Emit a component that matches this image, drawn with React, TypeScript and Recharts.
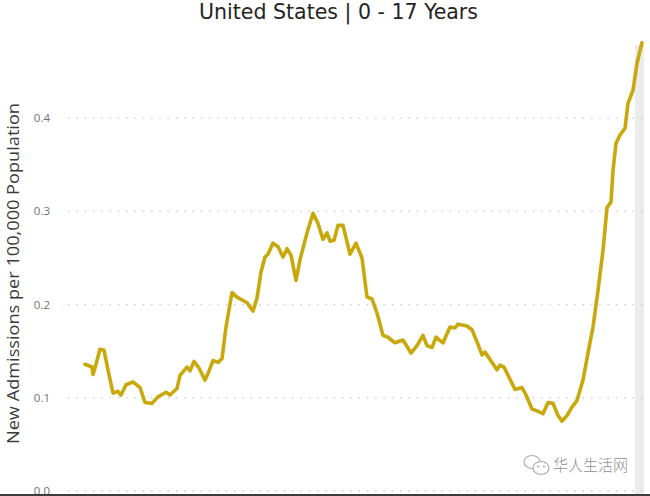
import React from 'react';
import { LineChart, Line, XAxis, YAxis, CartesianGrid } from 'recharts';

const TITLE = 'United States | 0 - 17 Years';
const Y_LABEL = 'New Admissions per 100,000 Population';
const Y_TICKS = [0, 0.1, 0.2, 0.3, 0.4];
const WATERMARK = '华人生活网';

// sample position (days from first point, estimated) and admissions rate
const days = [
  0, 7, 8, 10, 15, 19, 23, 28, 33, 36, 41, 48, 55, 60, 67, 73, 81, 85, 92, 95,
  102, 105, 109, 114, 120, 123, 128, 133, 137, 141, 147, 152, 162, 168, 172, 176, 180, 183, 188, 193,
  198, 202, 206, 211, 215, 222, 228, 233, 238, 242, 245, 249, 253, 258, 265, 271, 277, 282, 287, 292,
  298, 303, 310, 318, 326, 332, 338, 342, 347, 351, 358, 365, 370, 373, 382, 387, 392, 397, 400, 407,
  412, 415, 419, 424, 430, 437, 441, 447, 452, 458, 463, 468, 473, 477, 482, 487, 492, 498, 503, 508,
  513, 518, 522, 526, 528, 531, 535, 540, 543, 548, 552, 557,
];
const rate = [
  0.136, 0.133, 0.125, 0.132, 0.152, 0.151, 0.13, 0.105, 0.107, 0.103, 0.114, 0.117, 0.111, 0.095, 0.094, 0.101, 0.106, 0.103, 0.11, 0.124,
  0.133, 0.129, 0.139, 0.132, 0.119, 0.126, 0.14, 0.138, 0.142, 0.176, 0.213, 0.208, 0.202, 0.193, 0.207, 0.235, 0.251, 0.254, 0.266, 0.262,
  0.251, 0.26, 0.253, 0.226, 0.248, 0.277, 0.298, 0.287, 0.27, 0.277, 0.268, 0.269, 0.285, 0.285, 0.254, 0.266, 0.25, 0.208, 0.206, 0.191,
  0.167, 0.165, 0.159, 0.162, 0.148, 0.156, 0.167, 0.156, 0.154, 0.165, 0.159, 0.176, 0.175, 0.179, 0.177, 0.173, 0.16, 0.146, 0.149, 0.138,
  0.13, 0.135, 0.133, 0.122, 0.109, 0.111, 0.103, 0.088, 0.086, 0.083, 0.095, 0.094, 0.081, 0.075, 0.081, 0.09, 0.097, 0.119, 0.148, 0.176,
  0.215, 0.258, 0.304, 0.31, 0.344, 0.373, 0.382, 0.389, 0.416, 0.43, 0.459, 0.481,
];

const data = days.map((d, i) => ({ day: d, rate: rate[i] }));

const YLabel = () => (
  <text
    x={19}
    y={273.5}
    transform="rotate(-90 19 273.5)"
    textAnchor="middle"
    fill="#3a3a3a"
    fontSize={16}
    fontFamily="'Open Sans', sans-serif"
    textLength={341}
    lengthAdjust="spacingAndGlyphs"
  >
    {Y_LABEL}
  </text>
);

export default function App() {
  return (
    <div
      style={{
        position: 'absolute',
        left: 0,
        top: 0,
        width: 650,
        height: 496,
        background: '#fff',
        overflow: 'hidden',
      }}
    >
      <div
        style={{
          position: 'absolute',
          left: 635,
          top: 45,
          width: 9,
          height: 451,
          background: '#ececec',
        }}
      />
      <div style={{ position: 'absolute', left: 0, top: 0 }}>
        <LineChart width={650} height={496} data={data} margin={{ top: 25, right: 5, bottom: 5, left: 0 }}>
          <CartesianGrid
            vertical={false}
            horizontalValues={Y_TICKS}
            stroke="#c9c9c9"
            strokeDasharray="1.5 6.8"
            strokeWidth={1.3}
          />
          <XAxis dataKey="day" type="number" domain={[-17, 560]} hide />
          <YAxis
            type="number"
            domain={[0, 0.5]}
            ticks={Y_TICKS}
            interval={0}
            width={68}
            axisLine={false}
            tickLine={false}
            tickMargin={12}
            tickFormatter={(v: number) => v.toFixed(1)}
            tick={{ fill: '#707070', fontSize: 11.5, fontFamily: "'Open Sans', sans-serif" }}
            label={<YLabel />}
          />
          <Line
            type="linear"
            dataKey="rate"
            stroke="#C9A80C"
            strokeWidth={3.6}
            dot={false}
            strokeLinejoin="round"
            strokeLinecap="round"
            isAnimationActive={false}
          />
        </LineChart>
      </div>
      <svg
        width={650}
        height={496}
        style={{ position: 'absolute', left: 0, top: 0, pointerEvents: 'none' }}
      >
        <text
          x={338.5}
          y={19}
          textAnchor="middle"
          fill="#252423"
          fontSize={20.5}
          fontFamily="'DejaVu Sans Condensed', 'DejaVu Sans', sans-serif"
          textLength={279}
          lengthAdjust="spacingAndGlyphs"
        >
          {TITLE}
        </text>
        <g fill="#fff" stroke="#a8a8a8" strokeWidth={1.1}>
          <ellipse cx={532} cy={462} rx={8} ry={6.5} />
          <ellipse cx={541} cy={468} rx={8} ry={6.5} />
        </g>
        <g fill="#a8a8a8">
          <circle cx={538} cy={466.5} r={1} />
          <circle cx={544} cy={466.5} r={1} />
        </g>
        <text
          x={553}
          y={471}
          fill="#8f8f8f"
          fontSize={16}
          fontWeight={300}
          fontFamily="'Noto Sans CJK SC', sans-serif"
          textLength={75}
          lengthAdjust="spacingAndGlyphs"
        >
          {WATERMARK}
        </text>
        <rect x={0} y={494} width={650} height={2} fill="#3c3c3c" />
      </svg>
    </div>
  );
}
